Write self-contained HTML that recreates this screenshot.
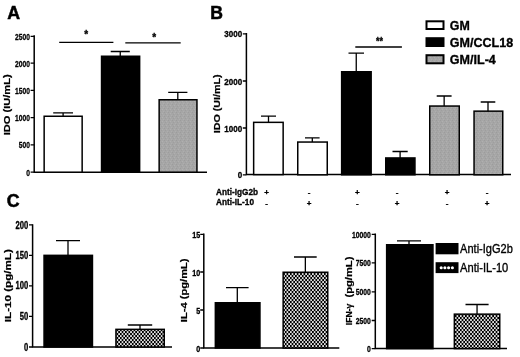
<!DOCTYPE html>
<html><head><meta charset="utf-8"><title>Figure</title>
<style>
html,body{margin:0;padding:0;background:#fff;}
svg{display:block;font-family:"Liberation Sans", Arial, sans-serif;}
text{fill:#000;}
</style></head>
<body>
<svg width="520" height="357" viewBox="0 0 520 357">
<defs>
<pattern id="hx" width="3.4" height="4" patternUnits="userSpaceOnUse" x="283.15" y="275">
<rect width="3.4" height="4" fill="#000"/>
<rect x="0.05" y="0.1" width="1.6" height="1.8" rx="0.3" fill="#fff"/>
<rect x="1.75" y="2.1" width="1.6" height="1.8" rx="0.3" fill="#fff"/>
</pattern>
<pattern id="gr" width="4" height="4" patternUnits="userSpaceOnUse">
<rect width="4" height="4" fill="#a6a6a6"/>
<rect x="0" y="0" width="1" height="1" fill="#9c9c9c"/>
<rect x="2" y="1" width="1" height="1" fill="#b0b0b0"/>
<rect x="1" y="2" width="1" height="1" fill="#9e9e9e"/>
<rect x="3" y="3" width="1" height="1" fill="#aeaeae"/>
</pattern>
</defs>
<rect width="520" height="357" fill="#fff"/>
<text x="7.30" y="18.50" font-size="17.8" font-weight="bold" text-anchor="start" stroke="#000" stroke-width="0.5">A</text>
<path d="M34.20 35.30V172.20H207.00" stroke="#000" stroke-width="1.5" fill="none" stroke-linejoin="miter"/>
<path d="M30.60 36.30H34.20M30.60 63.20H34.20M30.60 90.40H34.20M30.60 117.60H34.20M30.60 144.80H34.20M30.60 172.20H34.20" stroke="#000" stroke-width="1.3" fill="none"/>
<rect x="44.15" y="116.25" width="38.00" height="55.95" fill="#fff" stroke="#000" stroke-width="1.5"/>
<path d="M63.10 116.25V112.80M53.20 112.80H73.00" stroke="#000" stroke-width="1.3" fill="none"/>
<rect x="101.55" y="56.25" width="38.10" height="115.95" fill="#000" stroke="#000" stroke-width="1.5"/>
<path d="M120.25 56.25V51.50M110.70 51.50H129.80" stroke="#000" stroke-width="1.3" fill="none"/>
<rect x="159.15" y="99.75" width="37.80" height="72.45" fill="url(#gr)" stroke="#000" stroke-width="1.5"/>
<path d="M177.80 99.75V92.40M168.20 92.40H187.40" stroke="#000" stroke-width="1.3" fill="none"/>
<path d="M59.2 42.3H113.4M125.3 42.8H180.7" stroke="#000" stroke-width="1.3"/>
<text x="86.30" y="38.00" font-size="10" font-weight="bold" text-anchor="middle" stroke="#000" stroke-width="0.32">*</text>
<text x="154.20" y="40.80" font-size="10" font-weight="bold" text-anchor="middle" stroke="#000" stroke-width="0.32">*</text>
<text x="15.12" y="39.90" font-size="9.9" font-weight="bold" text-anchor="start" textLength="14.88" lengthAdjust="spacingAndGlyphs" stroke="#000" stroke-width="0.32">2500</text>
<text x="15.12" y="66.80" font-size="9.9" font-weight="bold" text-anchor="start" textLength="14.88" lengthAdjust="spacingAndGlyphs" stroke="#000" stroke-width="0.32">2000</text>
<text x="15.12" y="94.00" font-size="9.9" font-weight="bold" text-anchor="start" textLength="14.88" lengthAdjust="spacingAndGlyphs" stroke="#000" stroke-width="0.32">1500</text>
<text x="15.12" y="121.20" font-size="9.9" font-weight="bold" text-anchor="start" textLength="14.88" lengthAdjust="spacingAndGlyphs" stroke="#000" stroke-width="0.32">1000</text>
<text x="18.84" y="148.40" font-size="9.9" font-weight="bold" text-anchor="start" textLength="11.16" lengthAdjust="spacingAndGlyphs" stroke="#000" stroke-width="0.32">500</text>
<text x="26.28" y="175.80" font-size="9.9" font-weight="bold" text-anchor="start" textLength="3.72" lengthAdjust="spacingAndGlyphs" stroke="#000" stroke-width="0.32">0</text>
<text transform="translate(10.00 104.80) rotate(-90) scale(1 0.78)" x="0" y="0" font-size="10.5" font-weight="bold" text-anchor="middle" stroke="#000" stroke-width="0.25" textLength="61.00" lengthAdjust="spacingAndGlyphs">IDO (IU/mL)</text>
<text x="210.20" y="19.40" font-size="17.6" font-weight="bold" text-anchor="start" stroke="#000" stroke-width="0.5">B</text>
<path d="M246.40 32.90V174.60H511.00" stroke="#000" stroke-width="1.5" fill="none" stroke-linejoin="miter"/>
<path d="M242.80 33.80H246.40M242.80 81.00H246.40M242.80 128.00H246.40M242.80 174.80H246.40" stroke="#000" stroke-width="1.3" fill="none"/>
<rect x="253.65" y="122.35" width="29.50" height="52.25" fill="#fff" stroke="#000" stroke-width="1.5"/>
<path d="M268.50 122.35V116.20M261.00 116.20H276.00" stroke="#000" stroke-width="1.3" fill="none"/>
<rect x="297.75" y="142.05" width="29.50" height="32.75" fill="#fff" stroke="#000" stroke-width="1.5"/>
<path d="M312.30 142.05V137.90M305.00 137.90H319.60" stroke="#000" stroke-width="1.3" fill="none"/>
<rect x="341.65" y="71.75" width="29.50" height="103.05" fill="#000" stroke="#000" stroke-width="1.5"/>
<path d="M356.25 71.75V53.10M348.50 53.10H364.00" stroke="#000" stroke-width="1.3" fill="none"/>
<rect x="385.75" y="157.95" width="29.20" height="16.85" fill="#000" stroke="#000" stroke-width="1.5"/>
<path d="M400.10 157.95V151.50M392.50 151.50H407.70" stroke="#000" stroke-width="1.3" fill="none"/>
<rect x="429.75" y="106.05" width="29.50" height="68.75" fill="url(#gr)" stroke="#000" stroke-width="1.5"/>
<path d="M444.15 106.05V96.00M436.70 96.00H451.60" stroke="#000" stroke-width="1.3" fill="none"/>
<rect x="474.05" y="111.15" width="28.70" height="63.65" fill="url(#gr)" stroke="#000" stroke-width="1.5"/>
<path d="M488.00 111.15V102.00M480.70 102.00H495.30" stroke="#000" stroke-width="1.3" fill="none"/>
<path d="M355.3 47.0H401.9" stroke="#000" stroke-width="1.3"/>
<text x="379.40" y="44.80" font-size="10" font-weight="bold" text-anchor="middle" textLength="7.00" lengthAdjust="spacingAndGlyphs" stroke="#000" stroke-width="0.32">**</text>
<text x="224.32" y="37.40" font-size="9.4" font-weight="bold" text-anchor="start" textLength="17.88" lengthAdjust="spacingAndGlyphs" stroke="#000" stroke-width="0.32">3000</text>
<text x="224.32" y="84.60" font-size="9.4" font-weight="bold" text-anchor="start" textLength="17.88" lengthAdjust="spacingAndGlyphs" stroke="#000" stroke-width="0.32">2000</text>
<text x="224.32" y="131.60" font-size="9.4" font-weight="bold" text-anchor="start" textLength="17.88" lengthAdjust="spacingAndGlyphs" stroke="#000" stroke-width="0.32">1000</text>
<text x="237.73" y="178.40" font-size="9.4" font-weight="bold" text-anchor="start" textLength="4.47" lengthAdjust="spacingAndGlyphs" stroke="#000" stroke-width="0.32">0</text>
<text transform="translate(219.60 103.90) rotate(-90) scale(1 0.78)" x="0" y="0" font-size="10.5" font-weight="bold" text-anchor="middle" stroke="#000" stroke-width="0.25" textLength="58.80" lengthAdjust="spacingAndGlyphs">IDO (UI/mL)</text>
<text x="216.00" y="195.30" font-size="9.0" font-weight="bold" text-anchor="start" textLength="42.00" lengthAdjust="spacingAndGlyphs" stroke="#000" stroke-width="0.32">Anti-IgG2b</text>
<text x="216.00" y="204.60" font-size="9.0" font-weight="bold" text-anchor="start" textLength="38.00" lengthAdjust="spacingAndGlyphs" stroke="#000" stroke-width="0.32">Anti-IL-10</text>
<text x="266.50" y="194.90" font-size="8" font-weight="bold" text-anchor="middle" stroke="#000" stroke-width="0.32">+</text>
<text x="266.50" y="205.70" font-size="8" font-weight="bold" text-anchor="middle" stroke="#000" stroke-width="0.32">-</text>
<text x="309.00" y="194.90" font-size="8" font-weight="bold" text-anchor="middle" stroke="#000" stroke-width="0.32">-</text>
<text x="309.00" y="206.30" font-size="8" font-weight="bold" text-anchor="middle" stroke="#000" stroke-width="0.32">+</text>
<text x="357.30" y="194.90" font-size="8" font-weight="bold" text-anchor="middle" stroke="#000" stroke-width="0.32">+</text>
<text x="357.30" y="205.70" font-size="8" font-weight="bold" text-anchor="middle" stroke="#000" stroke-width="0.32">-</text>
<text x="397.00" y="194.90" font-size="8" font-weight="bold" text-anchor="middle" stroke="#000" stroke-width="0.32">-</text>
<text x="397.00" y="206.30" font-size="8" font-weight="bold" text-anchor="middle" stroke="#000" stroke-width="0.32">+</text>
<text x="447.00" y="194.90" font-size="8" font-weight="bold" text-anchor="middle" stroke="#000" stroke-width="0.32">+</text>
<text x="447.00" y="205.70" font-size="8" font-weight="bold" text-anchor="middle" stroke="#000" stroke-width="0.32">-</text>
<text x="487.00" y="194.90" font-size="8" font-weight="bold" text-anchor="middle" stroke="#000" stroke-width="0.32">-</text>
<text x="487.00" y="206.30" font-size="8" font-weight="bold" text-anchor="middle" stroke="#000" stroke-width="0.32">+</text>
<rect x="426.5" y="21.30" width="17" height="7.70" fill="#fff" stroke="#000" stroke-width="2"/>
<rect x="426.5" y="38.20" width="17" height="7.80" fill="#000" stroke="#000" stroke-width="2"/>
<rect x="426.5" y="55.20" width="17" height="8.10" fill="url(#gr)" stroke="#000" stroke-width="2"/>
<text x="449.80" y="29.90" font-size="12.6" font-weight="bold" text-anchor="start" textLength="20.00" lengthAdjust="spacingAndGlyphs" stroke="#000" stroke-width="0.32">GM</text>
<text x="449.80" y="46.80" font-size="12.6" font-weight="bold" text-anchor="start" textLength="63.40" lengthAdjust="spacingAndGlyphs" stroke="#000" stroke-width="0.32">GM/CCL18</text>
<text x="449.80" y="63.90" font-size="12.6" font-weight="bold" text-anchor="start" textLength="46.00" lengthAdjust="spacingAndGlyphs" stroke="#000" stroke-width="0.32">GM/IL-4</text>
<text x="6.80" y="207.30" font-size="17.8" font-weight="bold" text-anchor="start" stroke="#000" stroke-width="0.5">C</text>
<path d="M32.60 224.20V347.00H172.00" stroke="#000" stroke-width="1.5" fill="none" stroke-linejoin="miter"/>
<path d="M29.00 224.90H32.60M29.00 255.30H32.60M29.00 285.80H32.60M29.00 316.40H32.60M29.00 347.00H32.60" stroke="#000" stroke-width="1.3" fill="none"/>
<rect x="44.05" y="255.35" width="48.40" height="91.65" fill="#000" stroke="#000" stroke-width="1.5"/>
<path d="M68.00 255.35V240.70M56.00 240.70H80.00" stroke="#000" stroke-width="1.3" fill="none"/>
<rect x="115.95" y="329.35" width="48.30" height="17.65" fill="url(#hx)" stroke="#000" stroke-width="1.5"/>
<path d="M140.00 329.35V325.00M127.80 325.00H152.20" stroke="#000" stroke-width="1.3" fill="none"/>
<text x="15.55" y="228.50" font-size="10.0" font-weight="bold" text-anchor="start" textLength="12.75" lengthAdjust="spacingAndGlyphs" stroke="#000" stroke-width="0.32">200</text>
<text x="15.55" y="258.90" font-size="10.0" font-weight="bold" text-anchor="start" textLength="12.75" lengthAdjust="spacingAndGlyphs" stroke="#000" stroke-width="0.32">150</text>
<text x="15.55" y="289.40" font-size="10.0" font-weight="bold" text-anchor="start" textLength="12.75" lengthAdjust="spacingAndGlyphs" stroke="#000" stroke-width="0.32">100</text>
<text x="19.80" y="320.00" font-size="10.0" font-weight="bold" text-anchor="start" textLength="8.50" lengthAdjust="spacingAndGlyphs" stroke="#000" stroke-width="0.32">50</text>
<text x="24.05" y="350.60" font-size="10.0" font-weight="bold" text-anchor="start" textLength="4.25" lengthAdjust="spacingAndGlyphs" stroke="#000" stroke-width="0.32">0</text>
<text transform="translate(10.80 285.70) rotate(-90) scale(1 0.78)" x="0" y="0" font-size="10.5" font-weight="bold" text-anchor="middle" stroke="#000" stroke-width="0.25" textLength="73.00" lengthAdjust="spacingAndGlyphs">IL-10 (pg/mL)</text>
<path d="M203.80 233.60V348.00H339.30" stroke="#000" stroke-width="1.5" fill="none" stroke-linejoin="miter"/>
<path d="M200.20 234.30H203.80M200.20 272.00H203.80M200.20 310.00H203.80M200.20 348.00H203.80" stroke="#000" stroke-width="1.3" fill="none"/>
<rect x="215.35" y="302.75" width="44.60" height="45.25" fill="#000" stroke="#000" stroke-width="1.5"/>
<path d="M237.30 302.75V287.70M226.00 287.70H248.60" stroke="#000" stroke-width="1.3" fill="none"/>
<rect x="283.15" y="272.25" width="44.60" height="75.75" fill="url(#hx)" stroke="#000" stroke-width="1.5"/>
<path d="M305.35 272.25V257.00M294.00 257.00H316.70" stroke="#000" stroke-width="1.3" fill="none"/>
<text x="192.20" y="237.80" font-size="9.4" font-weight="bold" text-anchor="start" textLength="8.00" lengthAdjust="spacingAndGlyphs" stroke="#000" stroke-width="0.32">15</text>
<text x="192.20" y="275.50" font-size="9.4" font-weight="bold" text-anchor="start" textLength="8.00" lengthAdjust="spacingAndGlyphs" stroke="#000" stroke-width="0.32">10</text>
<text x="196.20" y="313.50" font-size="9.4" font-weight="bold" text-anchor="start" textLength="4.00" lengthAdjust="spacingAndGlyphs" stroke="#000" stroke-width="0.32">5</text>
<text x="196.20" y="351.50" font-size="9.4" font-weight="bold" text-anchor="start" textLength="4.00" lengthAdjust="spacingAndGlyphs" stroke="#000" stroke-width="0.32">0</text>
<text transform="translate(187.20 290.30) rotate(-90) scale(1 0.78)" x="0" y="0" font-size="10.5" font-weight="bold" text-anchor="middle" stroke="#000" stroke-width="0.25" textLength="63.70" lengthAdjust="spacingAndGlyphs">IL-4 (pg/mL)</text>
<path d="M375.30 233.60V348.60H507.00" stroke="#000" stroke-width="1.5" fill="none" stroke-linejoin="miter"/>
<path d="M371.70 234.30H375.30M371.70 262.90H375.30M371.70 291.80H375.30M371.70 320.50H375.30M371.70 348.60H375.30" stroke="#000" stroke-width="1.3" fill="none"/>
<rect x="386.65" y="244.75" width="46.30" height="103.85" fill="#000" stroke="#000" stroke-width="1.5"/>
<path d="M409.00 244.75V240.90M397.00 240.90H421.00" stroke="#000" stroke-width="1.3" fill="none"/>
<rect x="454.35" y="314.15" width="45.40" height="34.45" fill="url(#hx)" stroke="#000" stroke-width="1.5"/>
<path d="M477.05 314.15V304.50M465.50 304.50H488.60" stroke="#000" stroke-width="1.3" fill="none"/>
<text x="352.00" y="237.80" font-size="9.4" font-weight="bold" text-anchor="start" textLength="18.90" lengthAdjust="spacingAndGlyphs" stroke="#000" stroke-width="0.32">10000</text>
<text x="355.78" y="266.40" font-size="9.4" font-weight="bold" text-anchor="start" textLength="15.12" lengthAdjust="spacingAndGlyphs" stroke="#000" stroke-width="0.32">7500</text>
<text x="355.78" y="295.30" font-size="9.4" font-weight="bold" text-anchor="start" textLength="15.12" lengthAdjust="spacingAndGlyphs" stroke="#000" stroke-width="0.32">5000</text>
<text x="355.78" y="324.00" font-size="9.4" font-weight="bold" text-anchor="start" textLength="15.12" lengthAdjust="spacingAndGlyphs" stroke="#000" stroke-width="0.32">2500</text>
<text x="367.12" y="352.10" font-size="9.4" font-weight="bold" text-anchor="start" textLength="3.78" lengthAdjust="spacingAndGlyphs" stroke="#000" stroke-width="0.32">0</text>
<text transform="translate(352.0 325.2) rotate(-90) scale(1 0.78)" font-size="10.5" font-weight="bold" text-anchor="start" stroke="#000" stroke-width="0.25" textLength="21.6" lengthAdjust="spacingAndGlyphs">IFN-γ</text>
<text transform="translate(352.0 256.6) rotate(-90) scale(1 0.78)" font-size="10.5" font-weight="bold" text-anchor="end" stroke="#000" stroke-width="0.25" textLength="41" lengthAdjust="spacingAndGlyphs">(pg/mL)</text>
<rect x="435.6" y="243" width="22.9" height="11.3" fill="#000"/>
<rect x="435.6" y="262.2" width="22.9" height="10.9" fill="#000"/>
<circle cx="441.2" cy="267.7" r="1.55" fill="#fff"/>
<circle cx="444.9" cy="267.7" r="1.55" fill="#fff"/>
<circle cx="448.6" cy="267.7" r="1.55" fill="#fff"/>
<circle cx="452.4" cy="267.7" r="1.55" fill="#fff"/>
<text x="460.10" y="253.20" font-size="12.7" font-weight="normal" text-anchor="start" textLength="52.70" lengthAdjust="spacingAndGlyphs" stroke="#000" stroke-width="0.35">Anti-IgG2b</text>
<text x="460.10" y="272.20" font-size="12.7" font-weight="normal" text-anchor="start" textLength="48.20" lengthAdjust="spacingAndGlyphs" stroke="#000" stroke-width="0.35">Anti-IL-10</text>
</svg>
</body></html>
